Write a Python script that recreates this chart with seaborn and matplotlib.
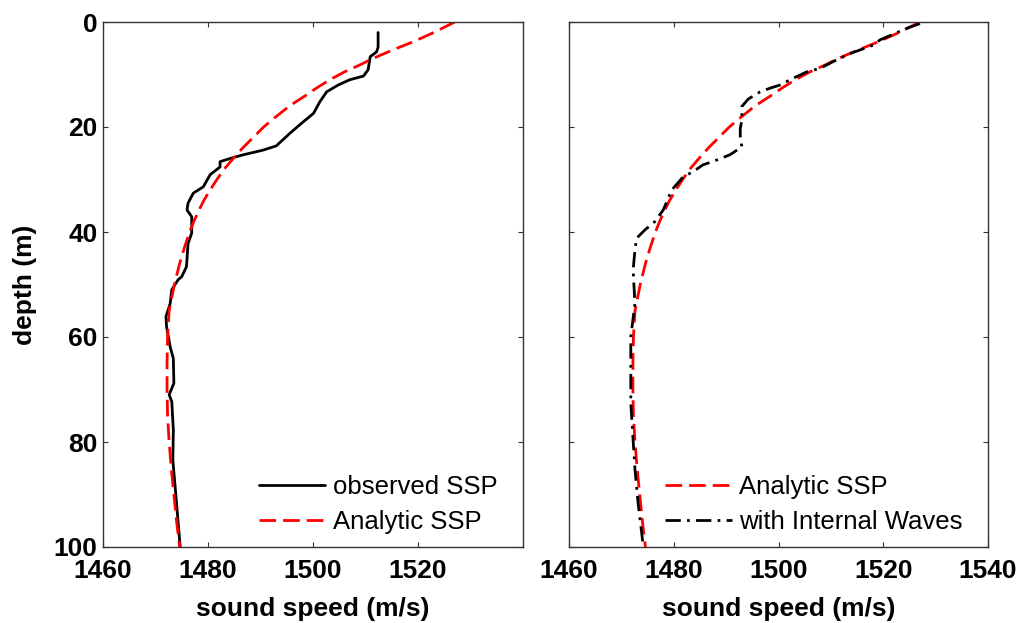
import numpy as np
import pandas as pd
import matplotlib
matplotlib.use("Agg")
import matplotlib.pyplot as plt
import seaborn as sns

# ---------------- data ----------------
analytic_depth = [0, 1, 2, 3, 4, 5, 6, 7, 8, 9.5, 11, 12.5, 14, 16, 18, 20, 22, 24, 26, 28,
                  30, 32, 34, 36, 38, 40, 43, 46, 50, 55, 60, 65, 70, 75, 80, 85, 90, 95, 100]
analytic_speed = [1527, 1525, 1523, 1520.8, 1518.5, 1516, 1513.6, 1511.3, 1509.3, 1506,
                  1503.2, 1500.8, 1498.6, 1495.5, 1493, 1490.6, 1488.6, 1486.6, 1484.8, 1483.1,
                  1481.7, 1480.4, 1479.2, 1478.2, 1477.3, 1476.5, 1475.5, 1474.6, 1473.6, 1472.6,
                  1472.3, 1472.2, 1472.2, 1472.3, 1472.6, 1473.0, 1473.5, 1474.0, 1474.6]

observed_depth = [2, 4.8, 5.7, 6.6, 9.1, 10.3, 11, 12, 13.3, 15.2, 17.4, 19.3, 21.2, 23.6,
                  24.4, 25.3, 26, 26.6, 27.6, 29.1, 31.4, 32.6, 34.5, 35.8, 37.1, 40.2, 42.2,
                  46.6, 48.5, 49.1, 51, 53.6, 56.1, 58, 61.9, 64.1, 68.8, 71, 72.3, 77.7, 83.4,
                  90.4, 100]
observed_speed = [1512.4, 1512.4, 1512.1, 1510.9, 1510.5, 1509.6, 1507, 1504.8, 1502.6,
                  1501.3, 1500.1, 1497.8, 1495.6, 1493, 1490.5, 1486.7, 1484.2, 1482.3, 1482.3,
                  1480.4, 1479.1, 1477.2, 1476.2, 1476.0, 1476.9, 1476.9, 1476.2, 1475.9, 1475.0,
                  1474.3, 1473.1, 1472.8, 1472.0, 1472.1, 1472.8, 1473.4, 1473.5, 1472.6, 1473.1,
                  1473.4, 1473.3, 1473.9, 1474.7]

iw_depth = [0.3, 1.2, 3.4, 4.4, 6, 7.2, 8.8, 9.5, 11, 12, 12.6, 13.3, 14.7, 16.1, 18.7, 20.3,
            21.8, 23.8, 25.3, 26.3, 27.2, 28.5, 29.5, 32, 35.8, 38, 39.6, 41.2, 43.4, 46.6,
            48.5, 53.6, 59.9, 66.3, 72.6, 79, 85.3, 91.7, 100]
iw_speed = [1527, 1524.5, 1519.4, 1518.1, 1513.7, 1511.1, 1508, 1505.4, 1502.2, 1500.3,
            1498.4, 1496.5, 1494.2, 1493.0, 1493.0, 1492.7, 1492.7, 1493.0, 1490.7, 1488.2,
            1485.6, 1483.7, 1481.8, 1479.6, 1478.0, 1476.4, 1474.5, 1472.9, 1472.6, 1472.3,
            1472.3, 1472.6, 1471.8, 1471.8, 1471.8, 1472.2, 1472.6, 1473.2, 1474.2]

left_xticks = [1460, 1480, 1500, 1520]
right_xticks = [1460, 1480, 1500, 1520, 1540]
yticks = [0, 20, 40, 60, 80, 100]

# ---------------- style ----------------
sns.set_style("ticks")
plt.rcParams['font.family'] = ['Liberation Sans', 'DejaVu Sans']
plt.rcParams['lines.scale_dashes'] = False
plt.rcParams['text.color'] = 'black'
plt.rcParams['axes.labelcolor'] = 'black'
plt.rcParams['xtick.labelcolor'] = 'black'
plt.rcParams['ytick.labelcolor'] = 'black'

fig = plt.figure(figsize=(10.22, 6.23), dpi=100)
axL = fig.add_axes([103 / 1022, 1 - 547 / 623, 420 / 1022, 525 / 623])
axR = fig.add_axes([569 / 1022, 1 - 547 / 623, 419 / 1022, 525 / 623])

LW = 2.0
dash = (0, (12, 5))
dashdot = (0, (11, 4.5, 2, 4.5))

sns.lineplot(x=observed_speed, y=observed_depth, ax=axL, estimator=None, sort=False,
             color='black', linewidth=LW, label='observed SSP')
sns.lineplot(x=analytic_speed, y=analytic_depth, ax=axL, estimator=None, sort=False,
             color='red', linewidth=LW, linestyle=dash, label='Analytic SSP')

sns.lineplot(x=analytic_speed, y=analytic_depth, ax=axR, estimator=None, sort=False,
             color='red', linewidth=LW, linestyle=dash, label='Analytic SSP')
sns.lineplot(x=iw_speed, y=iw_depth, ax=axR, estimator=None, sort=False,
             color='black', linewidth=LW, linestyle=dashdot, label='with Internal Waves')

for ax, xt in ((axL, left_xticks), (axR, right_xticks)):
    ax.set_xlim(1460, 1540)
    ax.set_ylim(100, 0)
    ax.set_xticks(xt)
    ax.set_yticks(yticks)
    ax.tick_params(direction='in', length=3.6, width=0.8, top=True, right=True,
                   labelsize=19, color='#333333', labelcolor='black')
    ax.tick_params(axis='x', pad=9)
    ax.tick_params(axis='y', pad=4)
    for lab in ax.get_xticklabels() + ax.get_yticklabels():
        lab.set_fontweight('bold')
    for s in ax.spines.values():
        s.set_color('#333333')
        s.set_linewidth(1.0)
    ax.set_xlabel('sound speed (m/s)', fontsize=19, fontweight='bold', labelpad=10,
                  color='black')
    ax.legend(loc='lower right', bbox_to_anchor=(0.94, 0.025), frameon=False,
              fontsize=18.5, handlelength=2.6, handletextpad=0.3, borderpad=0,
              borderaxespad=0, labelspacing=0.43)

axL.set_ylabel('depth (m)', fontsize=19, fontweight='bold', labelpad=12, color='black')
axR.set_ylabel('')
axR.tick_params(labelleft=False)

fig.savefig('out.png', dpi=100)
